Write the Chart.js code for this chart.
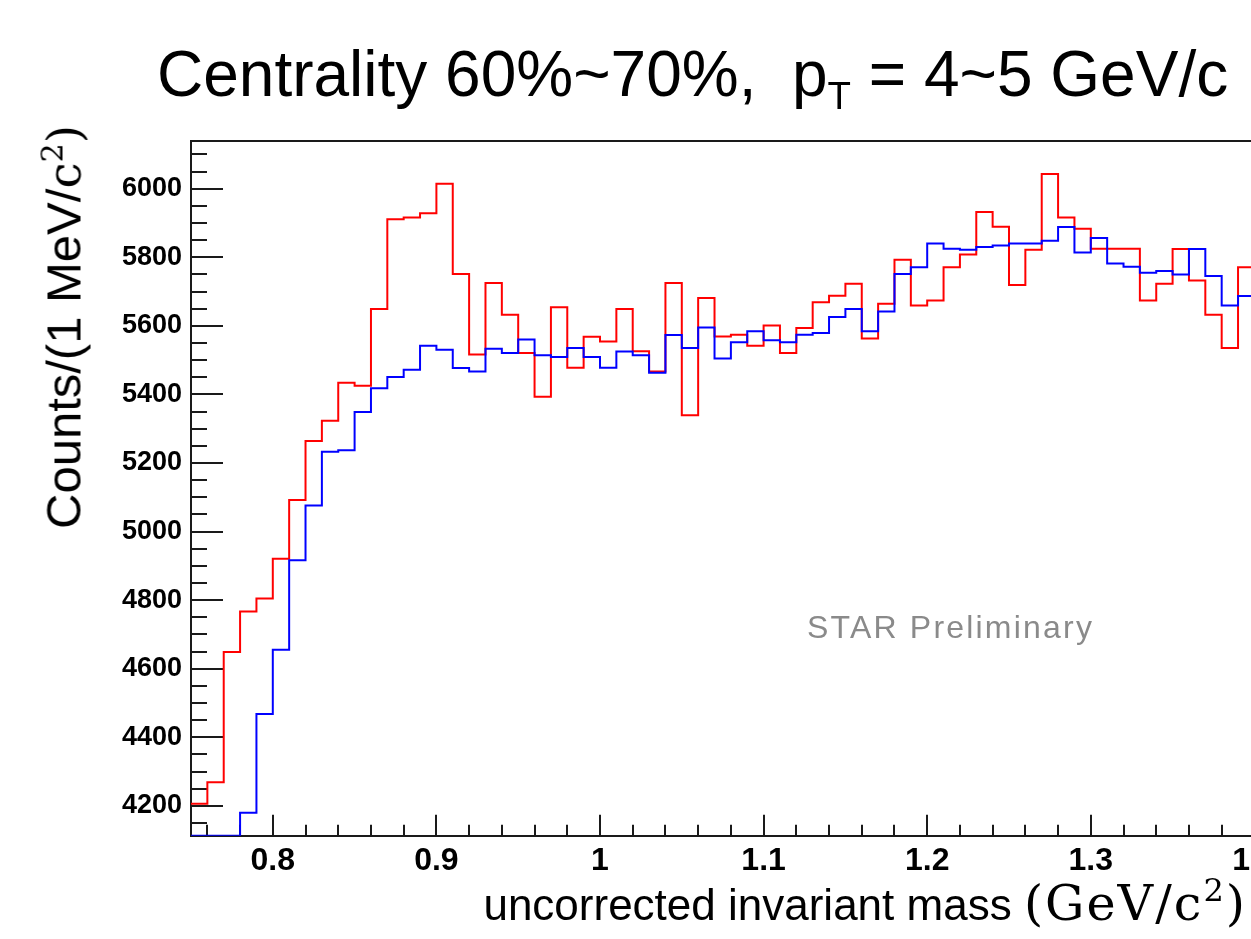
<!DOCTYPE html>
<html><head><meta charset="utf-8">
<script src="https://cdn.jsdelivr.net/npm/chart.js@4.4.1/dist/chart.umd.min.js"></script>
<style>
html,body{margin:0;padding:0;background:#fff;overflow:hidden;}
#wrap{position:relative;width:1251px;height:939px;overflow:hidden;background:#fff;}
#c{position:absolute;left:0;top:0;}
.t{position:absolute;white-space:nowrap;font-family:"Liberation Sans",Arial,Helvetica,sans-serif;color:#000;line-height:1;}
.serif{font-family:"DejaVu Serif","Liberation Serif",serif;}
.sup{font-size:0.65em;position:relative;top:-0.6em;}
</style></head><body>
<div id="wrap">
<canvas id="c" width="1300" height="939"></canvas>
<div class="t" id="title" style="left:157px;top:42px;font-size:64px;">Centrality 60%~70%,&nbsp; p<span style="font-size:0.6em;position:relative;top:0.35em;">T</span> = 4~5 GeV/c</div>
<div class="t" id="ytitle" style="left:64px;top:327px;font-size:49px;transform:translate(-50%,-50%) rotate(-90deg);">Counts/(1 MeV/<span class="serif" style="font-size:0.95em;">c<span class="sup">2</span>)</span></div>
<div class="t" id="xtitle" style="right:4px;top:879px;font-size:44px;">uncorrected invariant mass <span class="serif" style="font-size:1.12em;letter-spacing:2px;">(GeV/c<span class="sup">2</span>)</span></div>
<div class="t" id="star" style="left:807px;top:611px;font-size:32px;letter-spacing:2.2px;color:#8a8a8a;">STAR Preliminary</div>
</div>
<script>
// ---- data ----
const BIN_WIDTH = 0.01;
const BIN_LOW = [0.75,0.76,0.77,0.78,0.79,0.80,0.81,0.82,0.83,0.84,0.85,0.86,0.87,0.88,0.89,
  0.90,0.91,0.92,0.93,0.94,0.95,0.96,0.97,0.98,0.99,1.00,1.01,1.02,1.03,1.04,
  1.05,1.06,1.07,1.08,1.09,1.10,1.11,1.12,1.13,1.14,1.15,1.16,1.17,1.18,1.19,
  1.20,1.21,1.22,1.23,1.24,1.25,1.26,1.27,1.28,1.29,1.30,1.31,1.32,1.33,1.34,
  1.35,1.36,1.37,1.38,1.39];
const RED_COUNTS = [4206,4269,4649,4767,4805,4921,5092,5264,5323,5434,5425,5649,5911,5916,5928,
  6014,5751,5516,5725,5632,5521,5393,5654,5478,5568,5554,5649,5526,5467,5725,
  5339,5681,5569,5574,5542,5601,5521,5594,5669,5688,5723,5563,5664,5793,5659,
  5674,5771,5808,5932,5889,5719,5822,6043,5916,5883,5825,5825,5825,5674,5723,
  5824,5732,5632,5535,5771];
const BLUE_COUNTS = [4113,4113,4113,4180,4468,4655,4916,5076,5233,5237,5349,5418,5451,5472,5542,
  5530,5477,5467,5533,5521,5560,5514,5509,5535,5509,5478,5525,5514,5463,5573,
  5535,5595,5505,5552,5584,5558,5552,5574,5579,5626,5649,5584,5642,5751,5771,
  5840,5825,5822,5830,5834,5840,5840,5848,5888,5814,5856,5782,5772,5755,5760,
  5750,5824,5745,5659,5687];
const X_TICKS = [0.8,0.9,1.0,1.1,1.2,1.3,1.4];
const Y_TICKS = [4200,4400,4600,4800,5000,5200,5400,5600,5800,6000];
const X_MIN = 0.75, X_MAX = 1.4;
const Y_MIN = 4113, Y_MAX = 6139;

function histPoints(vals){
  const pts = BIN_LOW.map((x,i)=>({x:x, y:vals[i]}));
  pts.push({x: BIN_LOW[BIN_LOW.length-1] + BIN_WIDTH, y: vals[vals.length-1]});
  return pts;
}

const AXIS_COLOR = '#1a1a1a';
const rootTicks = {
  id:'rootTicks',
  beforeDatasetsDraw(chart){
    const {ctx, chartArea:a, scales:{x, y}} = chart;
    ctx.save();
    ctx.strokeStyle = AXIS_COLOR; ctx.lineWidth = 2;
    ctx.beginPath();
    ctx.moveTo(a.left, a.top); ctx.lineTo(a.right, a.top); ctx.lineTo(a.right, a.bottom);
    for (let k = 38; k <= 70; k++){
      const px = Math.round(x.getPixelForValue(k*0.02));
      const len = (k % 5 === 0) ? 21 : 11;
      ctx.moveTo(px, a.bottom); ctx.lineTo(px, a.bottom - len);
    }
    for (let k = 83; k <= 122; k++){
      const v = k*50;
      const py = Math.round(y.getPixelForValue(v));
      const len = (v % 200 === 0) ? 32 : 16;
      ctx.moveTo(a.left, py); ctx.lineTo(a.left + len, py);
    }
    ctx.stroke();
    ctx.restore();
  }
};

const fmtX = v => String(Math.round(v*10)/10);

new Chart(document.getElementById('c'), {
  type:'line',
  data:{
    datasets:[
      {label:'blue', data:histPoints(BLUE_COUNTS), borderColor:'#0000ff', borderWidth:2, stepped:'before', pointRadius:0, fill:false},
      {label:'red', data:histPoints(RED_COUNTS), borderColor:'#ff0000', borderWidth:2, stepped:'before', pointRadius:0, fill:false}
    ]
  },
  options:{
    responsive:false, animation:false, events:[],
    layout:{padding:{top:141, left:0, right:1300-1254.4, bottom:0}},
    plugins:{legend:{display:false}, tooltip:{enabled:false}, title:{display:false}},
    scales:{
      x:{type:'linear', min:X_MIN, max:X_MAX,
        grid:{display:false, drawTicks:false},
        border:{display:true, color:AXIS_COLOR, width:2},
        ticks:{autoSkip:false, maxRotation:0, minRotation:0, padding:6, color:'#000',
          font:{family:'"Liberation Sans", Arial, sans-serif', weight:'bold', size:32},
          callback:(v)=>fmtX(v)},
        afterBuildTicks:(s)=>{ s.ticks = X_TICKS.map(v=>({value:v})); },
        afterFit:(s)=>{ s.height = 939-835.7; s.paddingLeft = 0; s.paddingRight = 0; }
      },
      y:{type:'linear', min:Y_MIN, max:Y_MAX,
        grid:{display:false, drawTicks:false},
        border:{display:true, color:AXIS_COLOR, width:2},
        ticks:{autoSkip:false, padding:9, color:'#000',
          font:{family:'"Liberation Sans", Arial, sans-serif', weight:'bold', size:27},
          callback:(v)=>String(v)},
        afterBuildTicks:(s)=>{ s.ticks = Y_TICKS.map(v=>({value:v})); },
        afterFit:(s)=>{ s.width = 191; s.paddingTop = 0; s.paddingBottom = 0; }
      }
    }
  },
  plugins:[rootTicks]
});
</script>
</body></html>
